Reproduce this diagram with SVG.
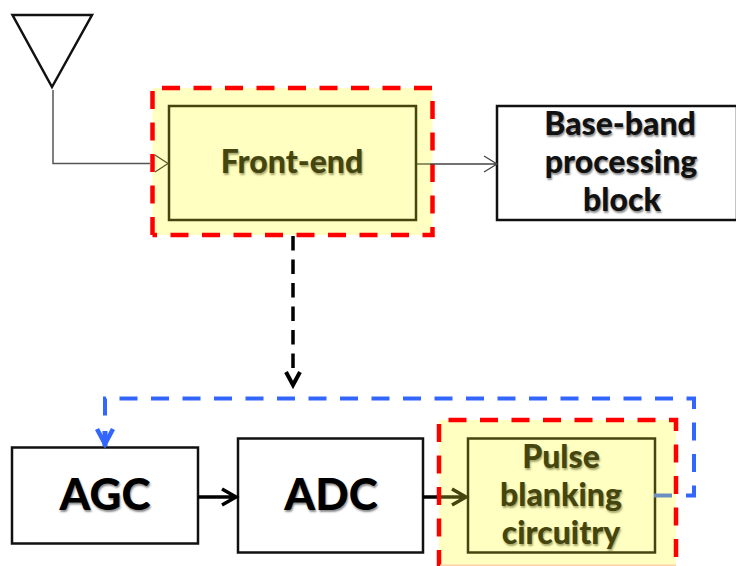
<svg xmlns="http://www.w3.org/2000/svg" width="736" height="566" viewBox="0 0 736 566">
<style>
text{font-family:"Lato","Open Sans","Liberation Sans",sans-serif;font-weight:900;text-anchor:middle}
.s{font-size:32px;fill:#111;text-shadow:1px 2px 2px rgba(0,0,0,.45)}
.y{font-size:32px;fill:#45450f;text-shadow:1px 2px 2px rgba(60,60,0,.45)}
.l{font-size:44px;fill:#000;text-shadow:1px 2px 2px rgba(0,0,0,.45)}
.box{fill:#fff;stroke:#111;stroke-width:2.500}
.ybox{fill:#ffffc2;stroke:#45450f;stroke-width:2.500}
.halo{fill:#ffffc2}
.dash{fill:none;stroke:#ff0000;stroke-width:4.500;stroke-dasharray:18 13.500}
.c{fill:none}
</style>
<g id="antenna"><path d="M12.500 15H92L52 87Z" fill="#fff" stroke="#111" stroke-width="2.500"/></g>
<g id="front-end">
<rect class="halo" x="152.500" y="88" width="280" height="147"/>
<path class="dash" stroke-dashoffset="-9.500" d="M152.500 88H432.500V235H152.500"/>
<path class="dash" d="M152.500 235V88"/>
<rect class="ybox" x="169" y="106" width="247" height="114"/>
<text class="y" x="292" y="173">Front-end</text>
</g>
<g id="baseband">
<rect class="box" x="497" y="106" width="240" height="114"/>
<text class="s" x="620" y="135">Base-band</text>
<text class="s" x="621" y="173">processing</text>
<text class="s" x="622" y="211">block</text>
</g>
<g id="agc">
<rect class="box" x="12" y="447.500" width="186" height="96"/>
<text class="l" x="105" y="510">AGC</text>
</g>
<g id="adc">
<rect class="box" x="238" y="438.500" width="185" height="114"/>
<text class="l" x="331" y="510">ADC</text>
</g>
<g id="pulse">
<rect class="halo" x="439" y="420" width="237" height="146"/>
<rect class="dash" stroke-dashoffset="-9.500" x="439" y="420" width="237" height="156.750"/>
<rect class="ybox" x="468" y="438.500" width="187" height="114"/>
<text class="y" x="561" y="468">Pulse</text>
<text class="y" x="561" y="506">blanking</text>
<text class="y" x="561" y="544">circuitry</text>
</g>
<rect x="440" y="564.500" width="236" height="1.500" fill="#ffd0a8"/>
<g id="connectors" class="c" stroke-linecap="butt">
<path d="M53 90V163.500H150" stroke="#555" stroke-width="1.500"/>
<path d="M155 155L168 163.500L155 172" stroke="#5a5a30" stroke-width="1.300"/>
<path d="M417 164H430" stroke="#5a5a30" stroke-width="1.300"/>
<path d="M430 164H497M484 156L497 164L484 172" stroke="#444" stroke-width="1.300"/>
<path d="M293 236V369" stroke="#000" stroke-width="3.500" stroke-dasharray="14.500 9"/>
<path d="M286 372L293 385L300 372" stroke="#000" stroke-width="4"/>
<path d="M198 497H236M222 489L236 497L222 505" stroke="#000" stroke-width="3.500"/>
<path d="M423 497H437" stroke="#000" stroke-width="3.500"/>
<path d="M441 497H466M452 489L466 497L452 505" stroke="#45450f" stroke-width="3.500"/>
<path d="M654 495.500H672" stroke="#6a8fc0" stroke-width="4"/>
<path d="M686 495.500H694V398.500H105V417" stroke="#3366ff" stroke-width="4" stroke-dasharray="18 13.500"/>
<path d="M97 429L105 444L113 429" stroke="#3366ff" stroke-width="4.500"/>
<path d="M105 431V446" stroke="#3366ff" stroke-width="5"/>
</g>
</svg>
